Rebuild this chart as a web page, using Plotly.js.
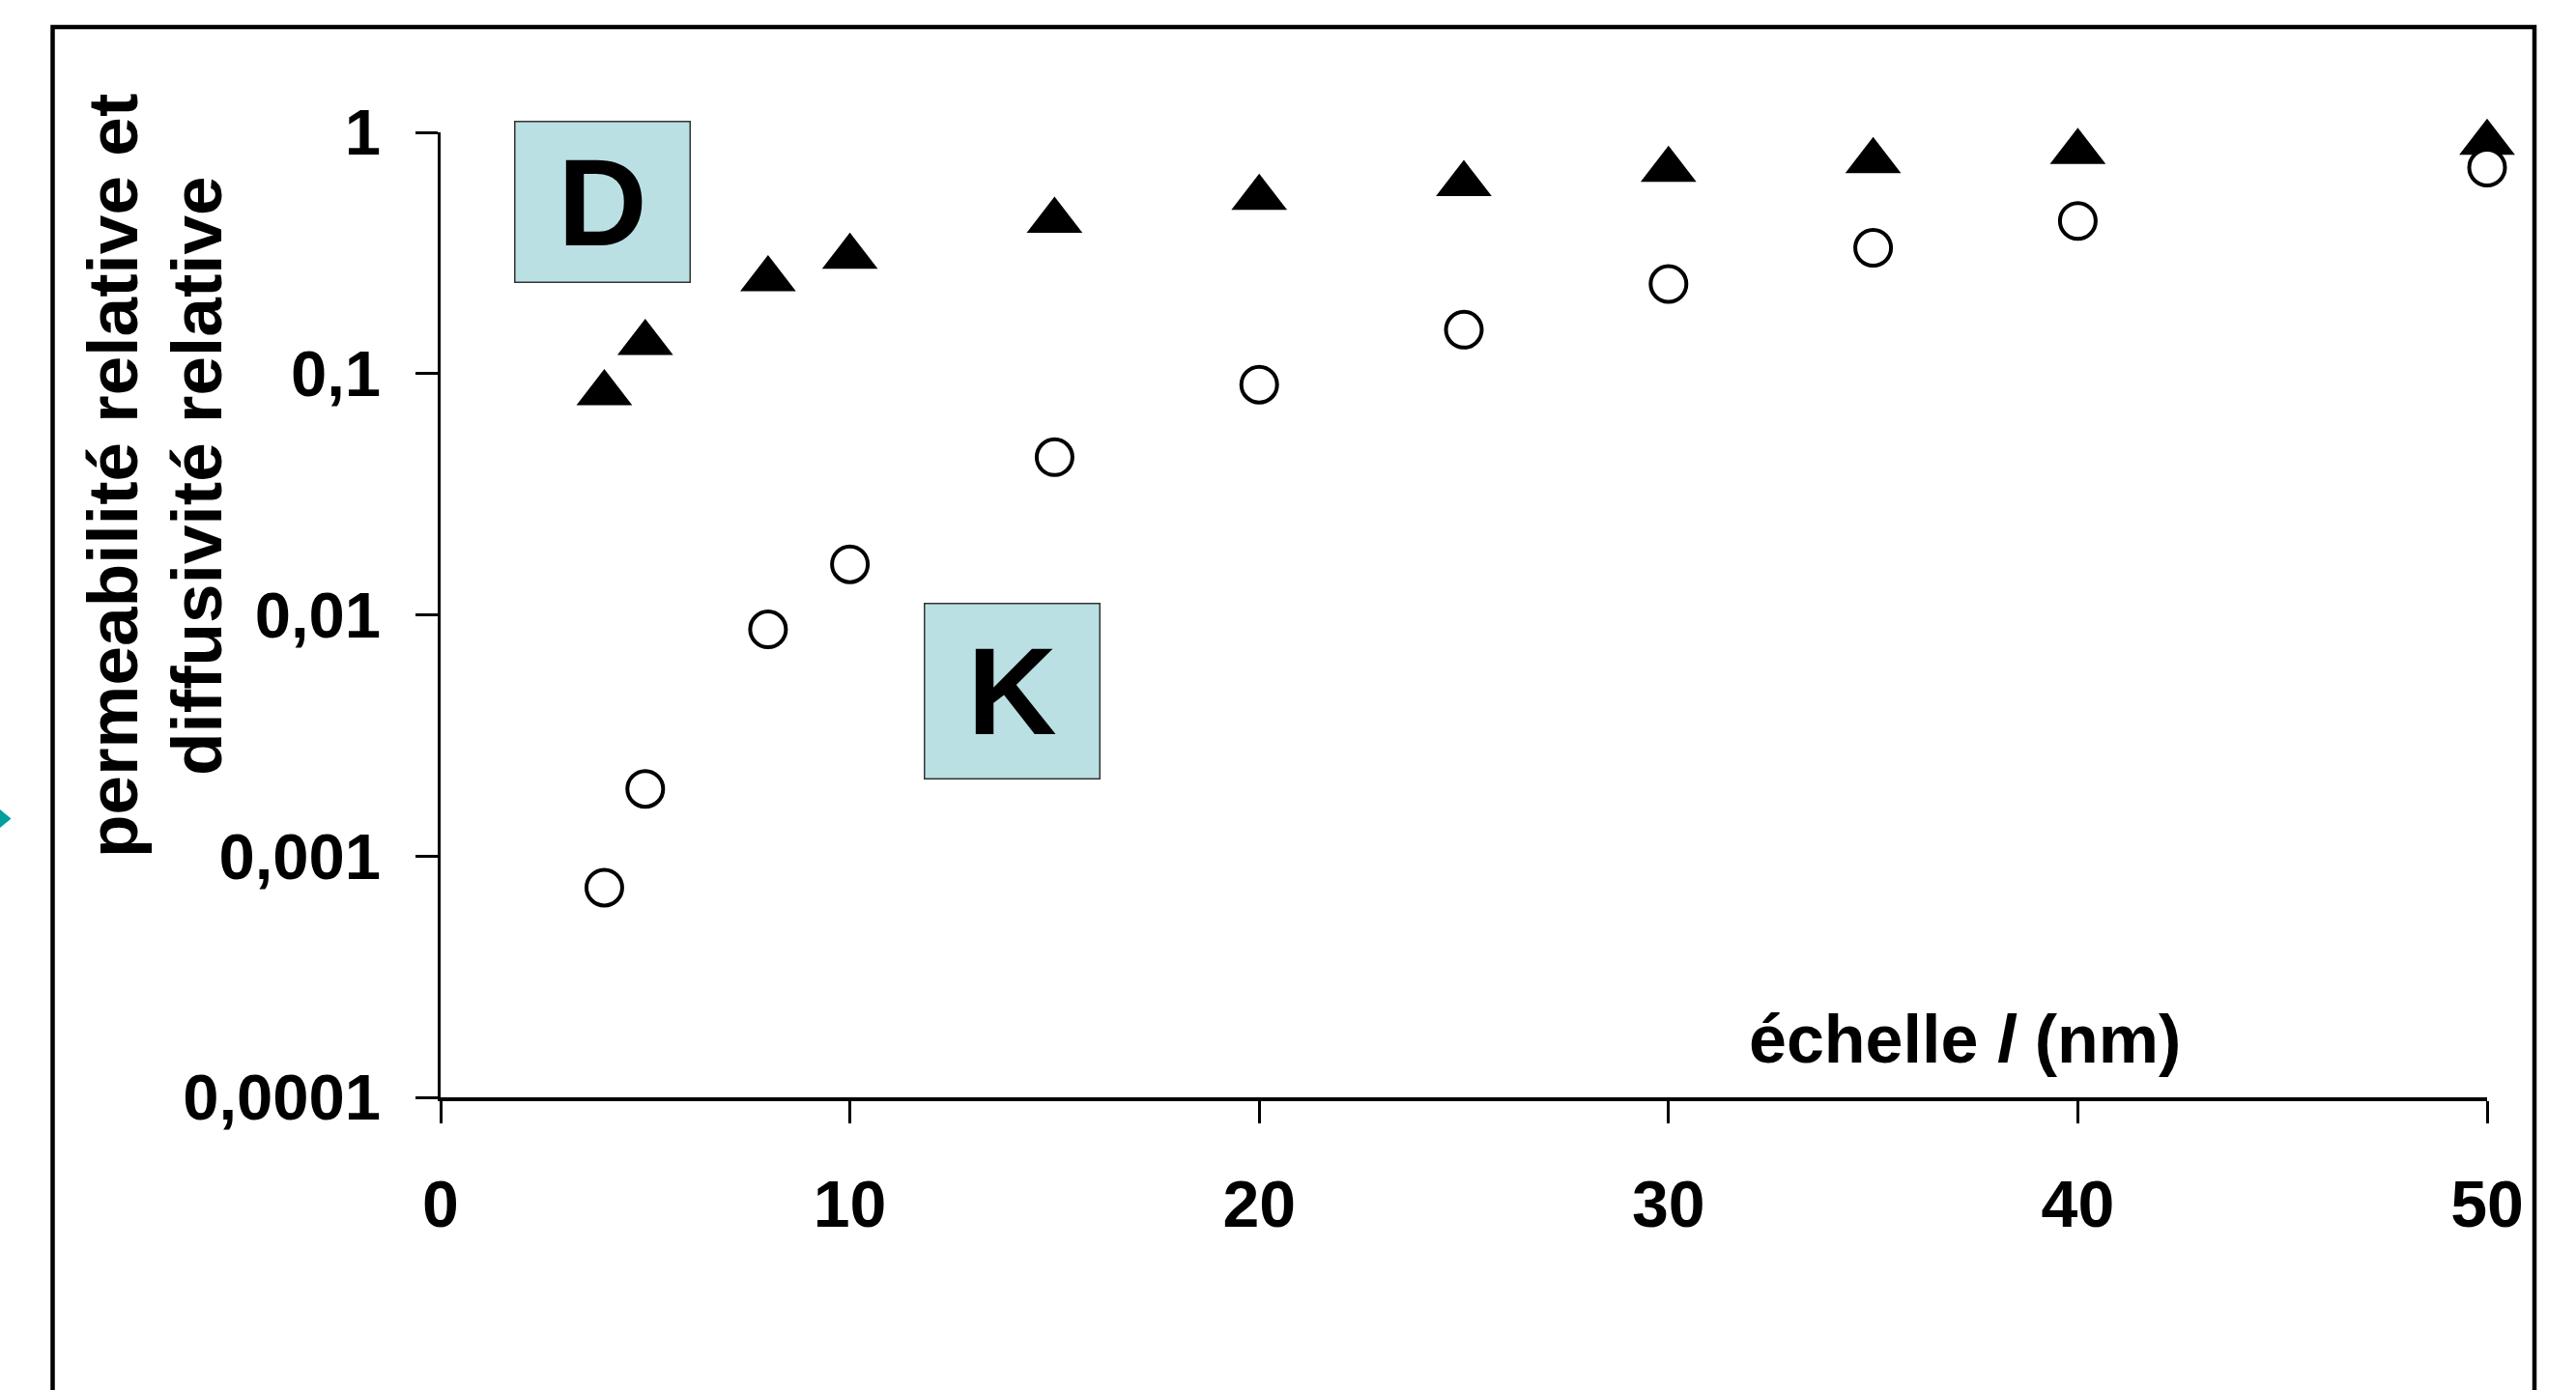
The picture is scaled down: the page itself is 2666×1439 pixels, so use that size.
<!DOCTYPE html>
<html>
<head>
<meta charset="utf-8">
<script src="https://cdn.plot.ly/plotly-3.0.1.min.js"></script>
<style>html,body{margin:0;padding:0;background:#fff;}#chart{width:2666px;height:1439px;}</style>
</head>
<body>
<div id="chart"></div>
<script>
// ---- data ----
const scale_nm = [4, 5, 8, 10, 15, 20, 25, 30, 35, 40, 50];
const diffusivity_D = [0.083, 0.134, 0.246, 0.305, 0.43, 0.535, 0.61, 0.70, 0.76, 0.83, 0.905];
const permeability_K = [0.00074, 0.0019, 0.0087, 0.0162, 0.045, 0.090, 0.152, 0.235, 0.332, 0.429, 0.714];
const yTickVals = [0.0001, 0.001, 0.01, 0.1, 1];
const yTickText = ['0,0001', '0,001', '0,01', '0,1', '1'];
const xTickVals = [0, 10, 20, 30, 40, 50];
const yTitleLine1 = 'permeabilité relative et';
const yTitleLine2 = 'diffusivité relative';
const xTitle = 'échelle <i>l</i> (nm)';

// ---- layout geometry (pixels) ----
const W = 2666, H = 1439;
const L = 456, R = 92, T = 137, B = 303;
const PW = W - L - R, PH = H - T - B;
const px = v => (v - L) / PW;
const py = v => (H - B - v) / PH;

const FONT = 'Liberation Sans, Arial, Helvetica, sans-serif';
const boldFont = (s) => ({family: FONT, size: s, color: '#000', weight: 'bold'});

const traces = [
  {
    x: scale_nm, y: diffusivity_D, type: 'scatter', mode: 'markers', name: 'D',
    marker: {symbol: 'triangle-up', size: 50, color: '#000', line: {width: 0}},
    cliponaxis: false, hoverinfo: 'x+y'
  },
  {
    x: scale_nm, y: permeability_K, type: 'scatter', mode: 'markers', name: 'K',
    marker: {symbol: 'circle', size: 37, color: '#fff', line: {width: 4, color: '#000'}},
    cliponaxis: false, hoverinfo: 'x+y'
  }
];

const layout = {
  width: W, height: H,
  margin: {l: L, r: R, t: T, b: B, pad: 0},
  paper_bgcolor: '#fff', plot_bgcolor: '#fff',
  showlegend: false,
  font: {family: FONT, color: '#000'},
  xaxis: {
    range: [0, 50], tickvals: xTickVals, ticktext: xTickVals.map(String),
    showgrid: false, zeroline: false,
    showline: true, linecolor: '#000', linewidth: 3.5,
    ticks: 'outside', ticklen: 23, tickwidth: 3, tickcolor: '#000',
    tickfont: boldFont(68), ticklabelstandoff: 26
  },
  yaxis: {
    type: 'log', range: [-4, 0], tickvals: yTickVals, ticktext: yTickText,
    showgrid: false, zeroline: false,
    showline: true, linecolor: '#000', linewidth: 3.5,
    ticks: 'outside', ticklen: 23, tickwidth: 3, tickcolor: '#000',
    tickfont: boldFont(67), ticklabelstandoff: 22
  },
  shapes: [
    {type: 'path', xref: 'paper', yref: 'paper',
     path: `M ${px(54.5)},${py(1500)} L ${px(54.5)},${py(28)} L ${px(2623)},${py(28)} L ${px(2623)},${py(1500)}`,
     line: {color: '#000', width: 4.5}},
    {type: 'path', xref: 'paper', yref: 'paper',
     path: `M ${px(0)},${py(838)} L ${px(11.5)},${py(847.5)} L ${px(0)},${py(857)} Z`,
     fillcolor: '#009e9c', line: {width: 0}}
  ],
  annotations: [
    {text: yTitleLine1, xref: 'paper', yref: 'paper', x: px(117), y: py(493),
     xanchor: 'center', yanchor: 'middle', textangle: -90, showarrow: false, font: boldFont(73)},
    {text: yTitleLine2, xref: 'paper', yref: 'paper', x: px(204), y: py(493),
     xanchor: 'center', yanchor: 'middle', textangle: -90, showarrow: false, font: boldFont(73)},
    {text: xTitle, xref: 'paper', yref: 'paper', x: px(2033), y: py(1076),
     xanchor: 'center', yanchor: 'middle', showarrow: false, font: boldFont(70)},
    {text: 'D', xref: 'paper', yref: 'paper', x: px(623), y: py(209.5),
     xanchor: 'center', yanchor: 'middle', showarrow: false, font: boldFont(128),
     width: 180, height: 165, bgcolor: '#BBE0E3', bordercolor: '#333', borderwidth: 1.5, borderpad: 0},
    {text: 'K', xref: 'paper', yref: 'paper', x: px(1047), y: py(716),
     xanchor: 'center', yanchor: 'middle', showarrow: false, font: boldFont(128),
     width: 180, height: 180, bgcolor: '#BBE0E3', bordercolor: '#333', borderwidth: 1.5, borderpad: 0}
  ]
};

Plotly.newPlot('chart', traces, layout, {displayModeBar: false, staticPlot: true});
</script>
</body>
</html>
